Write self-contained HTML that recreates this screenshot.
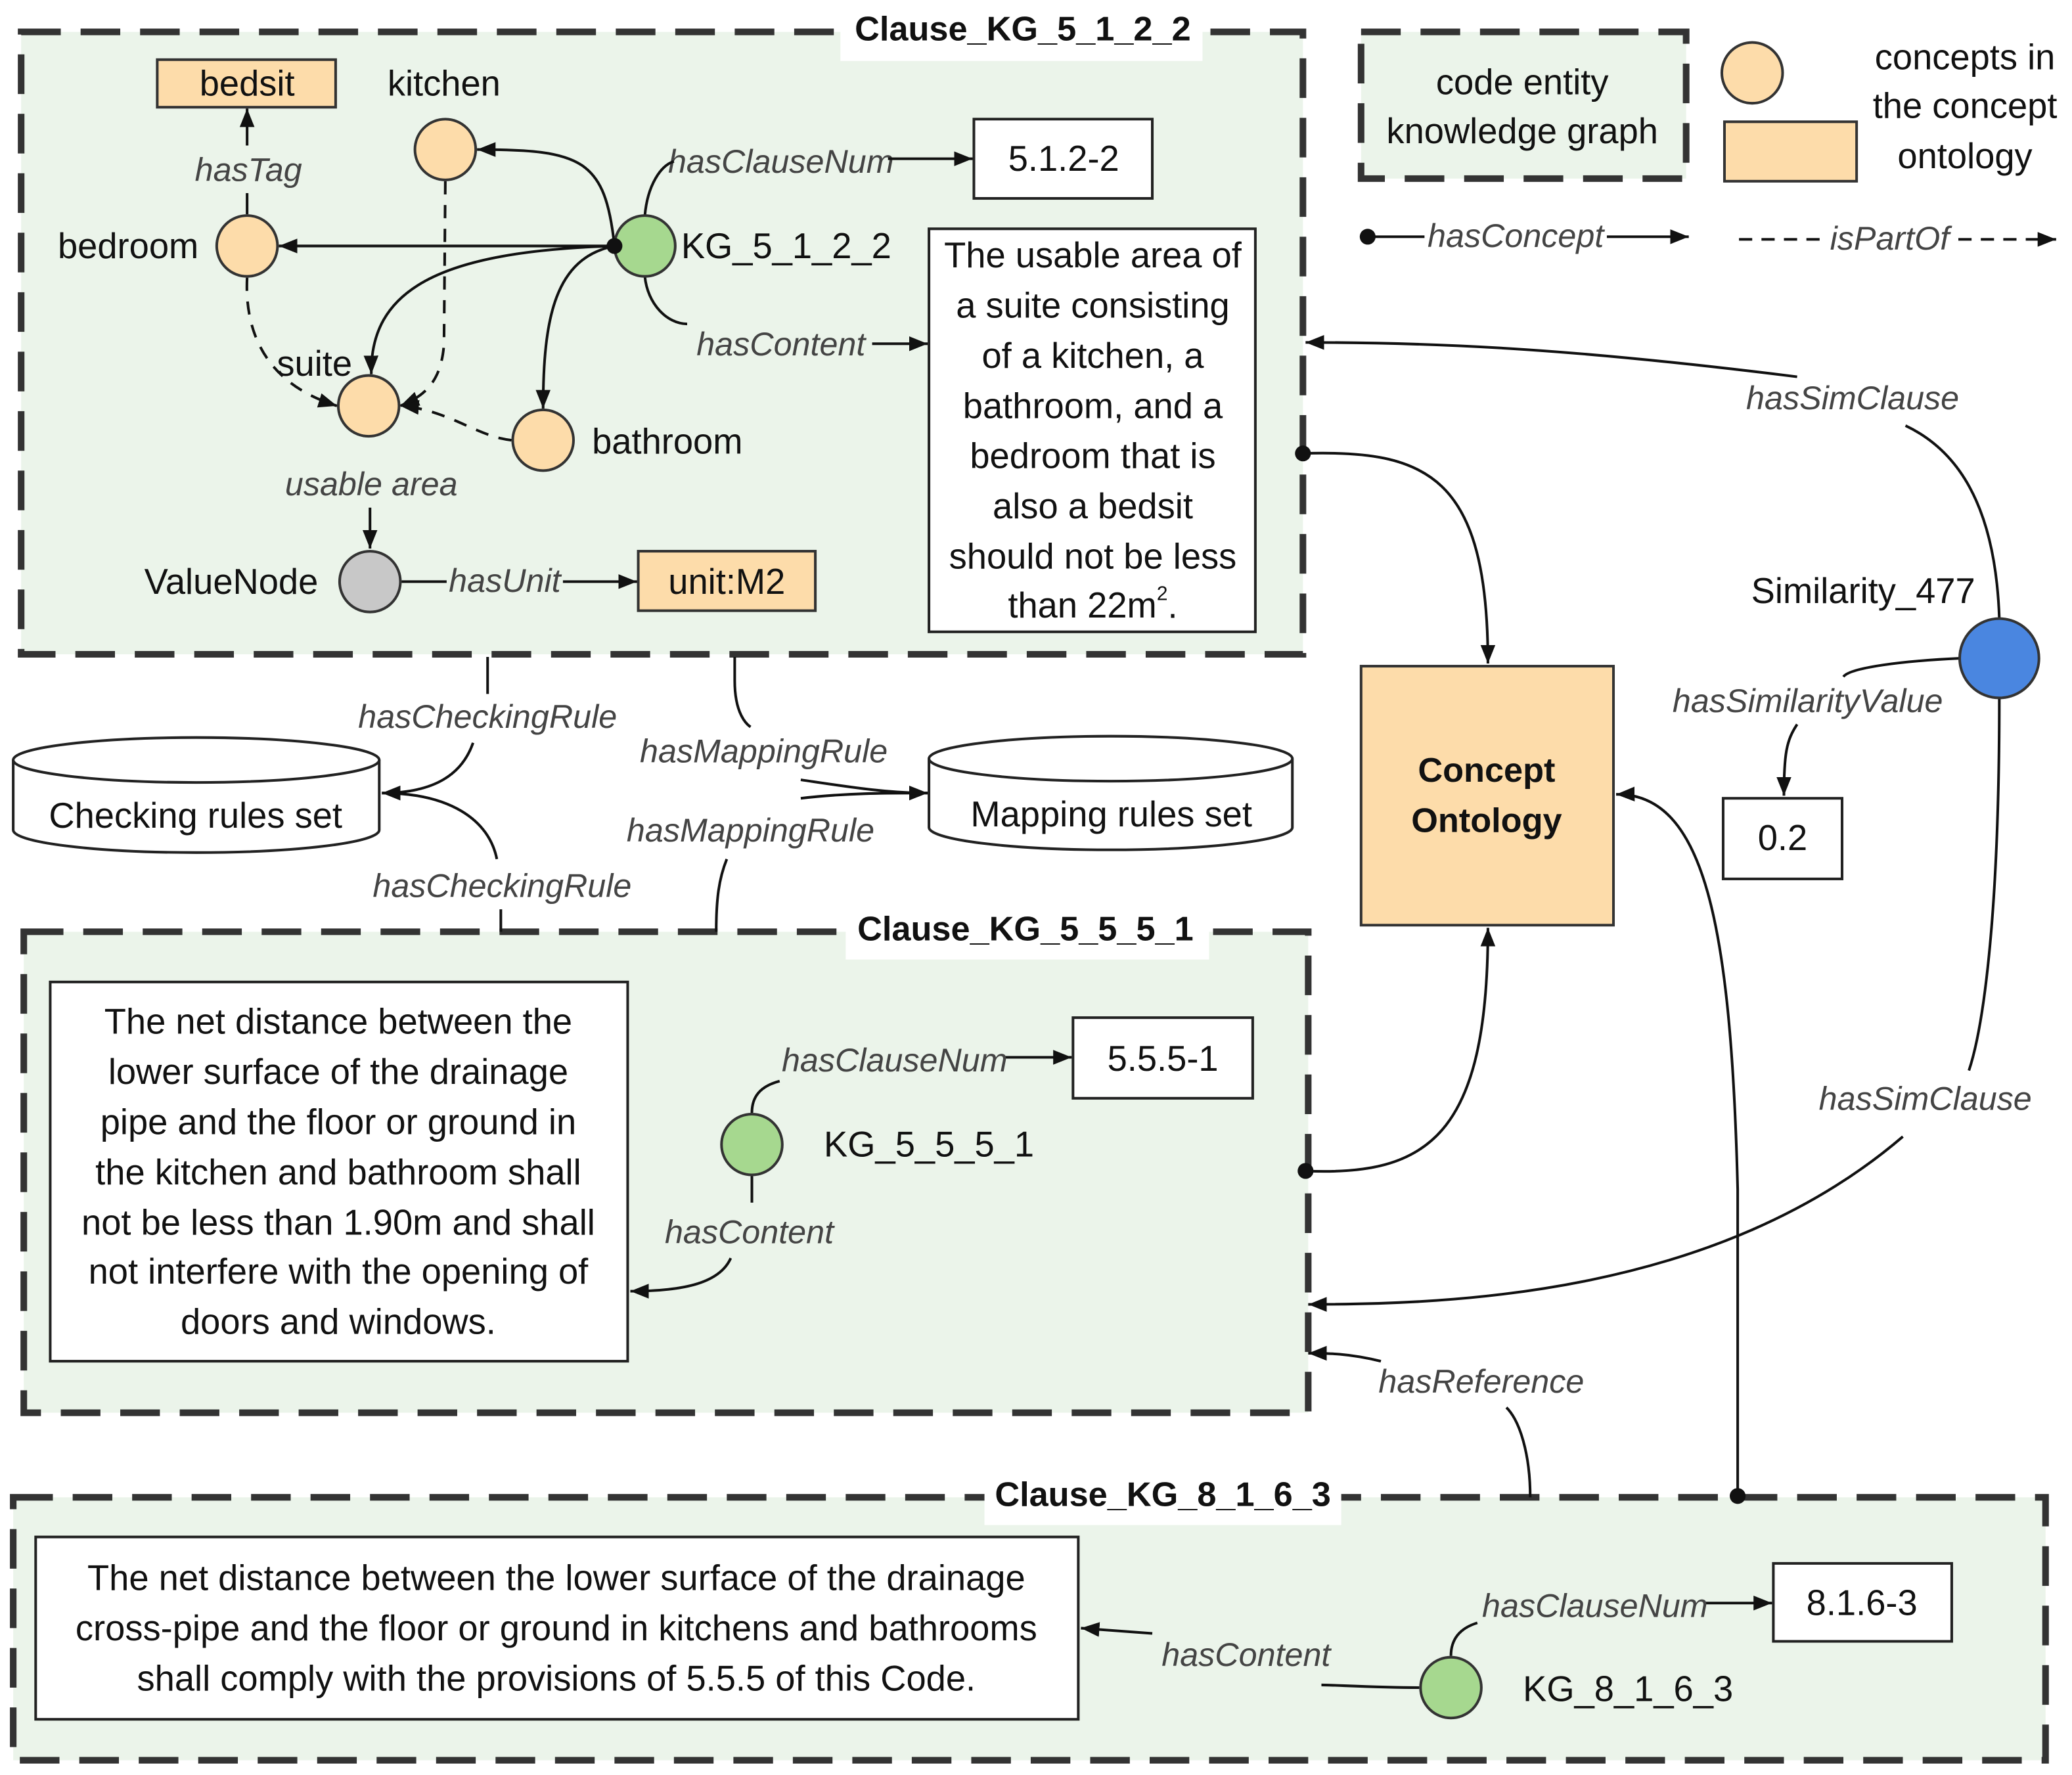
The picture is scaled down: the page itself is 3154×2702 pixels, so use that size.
<!DOCTYPE html>
<html><head><meta charset="utf-8"><style>html,body{margin:0;padding:0;background:#fff}svg{display:block}
text{font-family:"Liberation Sans",sans-serif;fill:#111}
.t{font-size:27px;text-anchor:middle;dominant-baseline:central}
.i{font-size:25px;font-style:italic;fill:#444;text-anchor:middle;dominant-baseline:central}
.b{font-size:26px;font-weight:bold;text-anchor:middle;dominant-baseline:central}
</style></head><body>
<svg width="3154" height="2702" viewBox="0 0 1568 1343" xmlns="http://www.w3.org/2000/svg">
<defs>
<marker id="A" viewBox="0 0 10 10" refX="10" refY="5" markerWidth="14" markerHeight="14" orient="auto" markerUnits="userSpaceOnUse"><path d="M0,1L10,5L0,9z" fill="#111"/></marker>
</defs>
<g fill="#ebf4ea" stroke="#333" stroke-width="5" stroke-dasharray="30 15">
<rect x="16" y="24" width="970" height="471"/>
<rect x="1030" y="24" width="246" height="111"/>
<rect x="18" y="705" width="972" height="364"/>
<rect x="10" y="1133" width="1538" height="199"/>
</g>
<rect x="636" y="6" width="274" height="40" fill="#fff"/>
<rect x="640" y="686" width="275" height="40" fill="#fff"/>
<rect x="745" y="1114" width="270" height="40" fill="#fff"/>
<text class="b" x="774" y="22">Clause_KG_5_1_2_2</text>
<text class="b" x="776" y="703">Clause_KG_5_5_5_1</text>
<text class="b" x="880" y="1131">Clause_KG_8_1_6_3</text>
<text class="t" x="1152" y="62">code entity</text>
<text class="t" x="1152" y="99">knowledge graph</text>
<circle cx="1326" cy="55" r="23" fill="#fddcaa" stroke="#333" stroke-width="2"/>
<rect x="1305" y="92" width="100" height="45" fill="#fddcaa" stroke="#333" stroke-width="2"/>
<text class="t" x="1487" y="43">concepts in</text>
<text class="t" x="1487" y="80">the concept</text>
<text class="t" x="1487" y="118">ontology</text>
<g stroke="#111" stroke-width="2" fill="none">
<line x1="1035" y1="179" x2="1078" y2="179"/><line x1="1216" y1="179" x2="1278" y2="179" marker-end="url(#A)"/>
<line x1="1316" y1="181" x2="1378" y2="181" stroke-dasharray="10 7"/><line x1="1482" y1="181" x2="1556" y2="181" stroke-dasharray="10 7" marker-end="url(#A)"/>
</g>
<circle cx="1035" cy="179" r="6" fill="#111"/>
<text class="i" x="1147" y="178">hasConcept</text>
<text class="i" x="1430" y="180">isPartOf</text>

<rect x="119" y="45" width="135" height="36" fill="#fddcaa" stroke="#333" stroke-width="2"/>
<text class="t" x="187" y="63">bedsit</text>
<text class="t" x="336" y="63">kitchen</text>
<text class="i" x="188" y="128">hasTag</text>
<text class="t" x="97" y="186">bedroom</text>
<text class="t" x="238" y="275">suite</text>
<text class="t" x="505" y="334">bathroom</text>
<text class="i" x="281" y="366">usable area</text>
<text class="t" x="175" y="440">ValueNode</text>
<text class="i" x="382" y="439">hasUnit</text>
<text class="t" x="595" y="186">KG_5_1_2_2</text>
<text class="i" x="591" y="122">hasClauseNum</text>
<text class="i" x="591" y="260">hasContent</text>
<g stroke="#111" stroke-width="2" fill="none">
<line x1="187" y1="110" x2="187" y2="82" marker-end="url(#A)"/><line x1="187" y1="162" x2="187" y2="146"/>
<line x1="465" y1="186" x2="211" y2="186" marker-end="url(#A)"/>
<path d="M465,186 C458,120 440,113 361,113" marker-end="url(#A)"/>
<path d="M465,186 C330,190 280,220 281,283" marker-end="url(#A)"/>
<path d="M465,186 C420,195 411,240 411,309" marker-end="url(#A)"/>
<g stroke-dasharray="10 8">
<path d="M187,210 C185,250 200,290 255,307" marker-end="url(#A)"/>
<path d="M337,137 L336,260 C334,290 320,300 303,307" marker-end="url(#A)"/>
<path d="M387,333 C360,330 340,310 303,307" marker-end="url(#A)"/>
</g>
<line x1="280" y1="384" x2="280" y2="415" marker-end="url(#A)"/>
<line x1="304" y1="440" x2="338" y2="440"/><line x1="426" y1="440" x2="482" y2="440" marker-end="url(#A)"/>
<path d="M488,163 C490,140 500,125 510,122"/><line x1="672" y1="120" x2="736" y2="120" marker-end="url(#A)"/>
<path d="M488,209 C490,230 505,245 520,245"/><line x1="660" y1="260" x2="702" y2="260" marker-end="url(#A)"/>
</g>
<circle cx="337" cy="113" r="23" fill="#fddcaa" stroke="#333" stroke-width="2"/>
<circle cx="187" cy="186" r="23" fill="#fddcaa" stroke="#333" stroke-width="2"/>
<circle cx="279" cy="307" r="23" fill="#fddcaa" stroke="#333" stroke-width="2"/>
<circle cx="411" cy="333" r="23" fill="#fddcaa" stroke="#333" stroke-width="2"/>
<circle cx="280" cy="440" r="23" fill="#c8c8c8" stroke="#333" stroke-width="2"/>
<circle cx="488" cy="186" r="23" fill="#a6d88f" stroke="#333" stroke-width="2"/>
<circle cx="465" cy="186" r="6" fill="#111"/>
<rect x="483" y="417" width="134" height="45" fill="#fddcaa" stroke="#333" stroke-width="2"/>
<text class="t" x="550" y="440">unit:M2</text>
<rect x="737" y="90" width="135" height="60" fill="#fff" stroke="#222" stroke-width="2"/>
<text class="t" x="805" y="120">5.1.2-2</text>
<rect x="703" y="173" width="247" height="305" fill="#fff" stroke="#222" stroke-width="2"/>
<text class="t" x="827" y="193">The usable area of</text>
<text class="t" x="827" y="231">a suite consisting</text>
<text class="t" x="827" y="269">of a kitchen, a</text>
<text class="t" x="827" y="307">bathroom, and a</text>
<text class="t" x="827" y="345">bedroom that is</text>
<text class="t" x="827" y="383">also a bedsit</text>
<text class="t" x="827" y="421">should not be less</text>
<text class="t" x="827" y="458">than 22m<tspan font-size="15" dy="-9">2</tspan><tspan dy="9">.</tspan></text>

<g stroke="#222" stroke-width="2" fill="#fff">
<path d="M10,575 L10,628 A138,17 0 0 0 287,628 L287,575"/>
<ellipse cx="148.5" cy="575" rx="138.5" ry="17"/>
<path d="M703,574 L703,626 A137.5,17 0 0 0 978,626 L978,574"/>
<ellipse cx="840.5" cy="574" rx="137.5" ry="17"/>
</g>
<text class="t" x="148" y="617">Checking rules set</text>
<text class="t" x="841" y="616">Mapping rules set</text>
<text class="i" x="369" y="542">hasCheckingRule</text>
<text class="i" x="578" y="568">hasMappingRule</text>
<text class="i" x="568" y="628">hasMappingRule</text>
<text class="i" x="380" y="670">hasCheckingRule</text>
<g stroke="#111" stroke-width="2" fill="none">
<line x1="369" y1="497" x2="369" y2="525"/>
<path d="M358,562 C350,585 330,600 289,600" marker-end="url(#A)"/>
<path d="M376,650 C370,620 340,600 289,600"/>
<line x1="379" y1="688" x2="379" y2="705"/>
<path d="M556,497 L556,515 C556,540 565,548 568,550"/>
<path d="M606,590 C640,595 670,600 702,600" marker-end="url(#A)"/>
<path d="M606,604 C640,600 670,600 702,600"/>
<path d="M550,650 C544,665 542,680 542,705"/>
<path d="M986,343 C1080,340 1126,360 1126,502" marker-end="url(#A)"/>
<path d="M988,886 C1080,890 1126,860 1126,702" marker-end="url(#A)"/>
<path d="M1315,1132 L1315,900 C1310,700 1290,600 1223,601" marker-end="url(#A)"/>
<path d="M1513,468 C1510,380 1480,340 1442,322"/>
<path d="M1360,285 C1200,265 1100,259 988,259" marker-end="url(#A)"/>
<path d="M1513,528 C1513,700 1500,780 1490,810"/>
<path d="M1440,860 C1300,980 1100,987 990,987" marker-end="url(#A)"/>
<path d="M1484,498 C1440,500 1400,505 1395,512"/>
<path d="M1360,548 C1352,560 1350,570 1350,602" marker-end="url(#A)"/>
<path d="M1158,1133 C1158,1100 1150,1075 1140,1065"/>
<path d="M1045,1030 C1020,1024 1005,1024 990,1024" marker-end="url(#A)"/>
</g>
<circle cx="986" cy="343" r="6" fill="#111"/>
<circle cx="988" cy="886" r="6" fill="#111"/>
<circle cx="1315" cy="1132" r="6" fill="#111"/>
<rect x="1030" y="504" width="191" height="196" fill="#fddcaa" stroke="#333" stroke-width="2"/>
<text class="b" x="1125" y="583">Concept</text>
<text class="b" x="1125" y="621">Ontology</text>
<text class="t" x="1410" y="447">Similarity_477</text>
<circle cx="1513" cy="498" r="30" fill="#4a86e0" stroke="#333" stroke-width="2"/>
<text class="i" x="1368" y="530">hasSimilarityValue</text>
<rect x="1304" y="604" width="90" height="61" fill="#fff" stroke="#222" stroke-width="2"/>
<text class="t" x="1349" y="634">0.2</text>
<text class="i" x="1402" y="301">hasSimClause</text>
<text class="i" x="1457" y="831">hasSimClause</text>
<text class="i" x="1121" y="1045">hasReference</text>

<rect x="38" y="743" width="437" height="287" fill="#fff" stroke="#222" stroke-width="2"/>
<text class="t" x="256" y="773">The net distance between the</text>
<text class="t" x="256" y="811">lower surface of the drainage</text>
<text class="t" x="256" y="849">pipe and the floor or ground in</text>
<text class="t" x="256" y="887">the kitchen and bathroom shall</text>
<text class="t" x="256" y="925">not be less than 1.90m and shall</text>
<text class="t" x="256" y="962">not interfere with the opening of</text>
<text class="t" x="256" y="1000">doors and windows.</text>
<g stroke="#111" stroke-width="2" fill="none">
<path d="M569,842 C569,830 575,822 590,818"/><line x1="760" y1="800" x2="811" y2="800" marker-end="url(#A)"/>
<path d="M569,890 L569,910"/><path d="M553,952 C545,970 520,977 477,977" marker-end="url(#A)"/>
</g>
<circle cx="569" cy="866" r="23" fill="#a6d88f" stroke="#333" stroke-width="2"/>
<text class="t" x="703" y="866">KG_5_5_5_1</text>
<text class="i" x="677" y="802">hasClauseNum</text>
<text class="i" x="567" y="932">hasContent</text>
<rect x="812" y="770" width="136" height="61" fill="#fff" stroke="#222" stroke-width="2"/>
<text class="t" x="880" y="801">5.5.5-1</text>

<rect x="27" y="1163" width="789" height="138" fill="#fff" stroke="#222" stroke-width="2"/>
<text class="t" x="421" y="1194">The net distance between the lower surface of the drainage</text>
<text class="t" x="421" y="1232">cross-pipe and the floor or ground in kitchens and bathrooms</text>
<text class="t" x="421" y="1270">shall comply with the provisions of 5.5.5 of this Code.</text>
<g stroke="#111" stroke-width="2" fill="none">
<path d="M1098,1253 C1098,1240 1105,1232 1118,1228"/><line x1="1290" y1="1213" x2="1341" y2="1213" marker-end="url(#A)"/>
<path d="M1074,1277 C1040,1277 1010,1275 1000,1275"/>
<line x1="872" y1="1236" x2="818" y2="1232" marker-end="url(#A)"/>
</g>
<circle cx="1098" cy="1277" r="23" fill="#a6d88f" stroke="#333" stroke-width="2"/>
<text class="t" x="1232" y="1278">KG_8_1_6_3</text>
<text class="i" x="1207" y="1215">hasClauseNum</text>
<text class="i" x="943" y="1252">hasContent</text>
<rect x="1342" y="1183" width="135" height="59" fill="#fff" stroke="#222" stroke-width="2"/>
<text class="t" x="1409" y="1213">8.1.6-3</text>
</svg>
</body></html>
